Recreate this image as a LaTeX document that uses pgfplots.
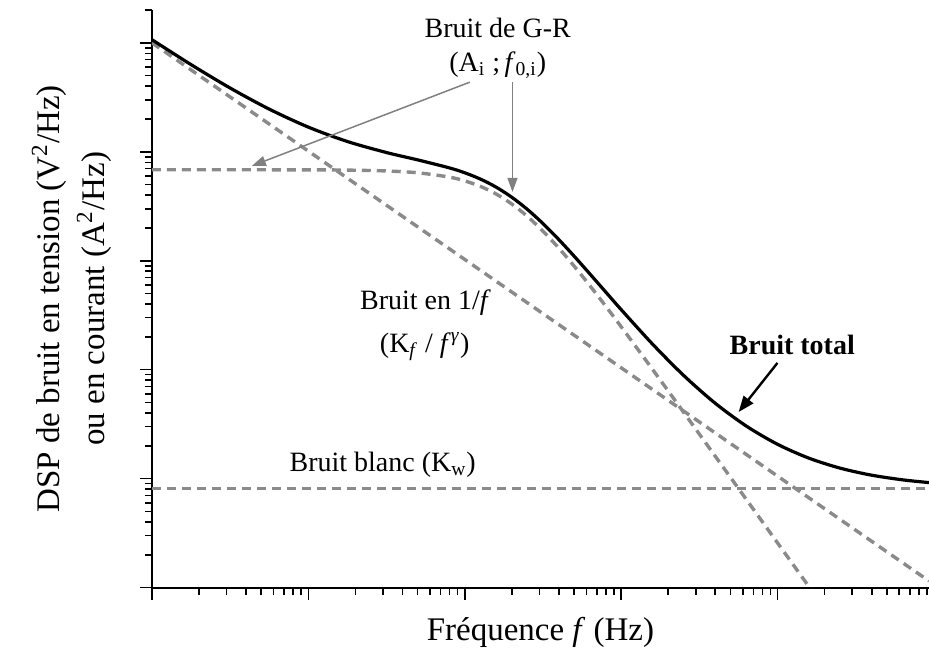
\documentclass[border=0pt]{standalone}
\usepackage{fontspec}
\setmainfont{Liberation Serif}
\usepackage{pgfplots}
\pgfplotsset{compat=1.18}
\usetikzlibrary{arrows.meta}
\definecolor{dgray}{RGB}{138,138,138}
\definecolor{agray}{RGB}{128,128,128}
\newcommand{\annot}{\fontsize{14}{17}\selectfont}
\newcommand{\labfont}{\fontsize{16.5}{22.5}\selectfont}
\begin{document}
\begin{tikzpicture}
\useasboundingbox (-76pt,-31.5pt) rectangle (388.8pt,294pt);
\begin{loglogaxis}[
  at={(0,0)}, anchor=south west,
  scale only axis, width=388.8pt, height=289pt,
  xmin=1, xmax=9.3e4, ymin=1, ymax=2e5,
  axis lines=left, axis line style={-, line width=1pt},
  xtick={1,10,100,1000,10000},
  ytick={1,10,100,1000,10000,100000},
  minor xtick={2,3,4,5,6,7,8,9,20,30,40,50,60,70,80,90,200,300,400,500,600,700,800,900,2000,3000,4000,5000,6000,7000,8000,9000,20000,30000,40000,50000,60000,70000,80000,90000},
  minor ytick={2,3,4,5,6,7,8,9,20,30,40,50,60,70,80,90,200,300,400,500,600,700,800,900,2000,3000,4000,5000,6000,7000,8000,9000,20000,30000,40000,50000,60000,70000,80000,90000,200000},
  xticklabels={}, yticklabels={},
  tick align=outside,
  major tick length=6pt, minor tick length=3.5pt,
  every tick/.style={black, line width=0.8pt},
  xlabel={Fréquence \textit{f} (Hz)},
  ylabel={DSP de bruit en tension (V\textsuperscript{2}/Hz)\\ou en courant (A\textsuperscript{2}/Hz)},
  xlabel style={at={(axis description cs:0.5,-0.078)}, anchor=center, font=\labfont},
  ylabel style={at={(axis description cs:-0.103,0.5)}, anchor=center, align=center, font=\labfont},
]
% G-R noise (Lorentzian)
\addplot[dgray, line width=1.7pt, dash pattern=on 4.5pt off 3pt, smooth] coordinates {
(1,6840) (10,6822) (17.783,6783) (31.623,6663) (50.119,6412) (79.433,5858) (100,5404)
(125.89,4813.5) (158.49,4102) (199.53,3324) (251.19,2556) (316.23,1870) (398.11,1312.6)
(501.19,891.3) (630.96,590.8) (794.33,385.1) (1000,248.1) (1584.9,101.0) (2511.9,40.56)
(3981.1,16.20) (6309.6,6.46) (10000,2.573) (15849,1.0248) (19953,0.646)};
% 1/f noise
\addplot[dgray, line width=1.7pt, dash pattern=on 4.5pt off 3pt] coordinates {(1,100000) (93000,1.15)};
% white noise
\addplot[dgray, line width=1.5pt, dash pattern=on 4.5pt off 3pt] coordinates {(1,8.05) (93000,8.05)};
% total noise
\addplot[black, line width=1.6pt, smooth] coordinates {
(1,106848) (1.7783,63081) (3.1623,38469) (5.6234,24625) (10,16830) (17.783,12414.5)
(31.623,9833.4) (50.119,8415.4) (79.433,7124.8) (100,6412.3) (125.89,5615.9) (158.49,4741.5)
(199.53,3833.2) (251.19,2961.8) (316.23,2194.7) (398.11,1571.9) (501.19,1098.9) (630.96,757.4)
(794.33,519.1) (1000,356.2) (1584.9,172.2) (2511.9,88.47) (3981.1,49.42) (6309.6,30.41)
(10000,20.67) (15849,15.43) (25119,12.49) (39811,10.77) (63096,9.75) (93000,9.2)};
% annotations
\node[font=\annot] at (rel axis cs:0.445,0.969) {Bruit de G-R};
\node[font=\annot] at (rel axis cs:0.445,0.905) {(A\textsubscript{i} ;\,\textit{f}\textsubscript{0,i})};
\draw[agray, line width=0.75pt, -{Triangle[length=7pt,width=5pt]}] (rel axis cs:0.409,0.875) -- (rel axis cs:0.1286,0.730);
\draw[agray, line width=0.75pt, -{Triangle[length=7pt,width=5pt]}] (rel axis cs:0.464,0.875) -- (rel axis cs:0.464,0.685);
\node[font=\annot] at (rel axis cs:0.352,0.493) {Bruit en 1/\textit{f}};
\node[font=\annot] at (rel axis cs:0.351,0.417) {(K\textsubscript{\textit{f}} / \textit{f}\textsuperscript{\textit{γ}})};
\node[font=\annot] at (rel axis cs:0.297,0.213) {Bruit blanc (K\textsubscript{w})};
\node[font=\annot\bfseries] at (rel axis cs:0.824,0.420) {Bruit total};
\draw[black, line width=1.2pt, -{Triangle[length=8pt,width=6pt]}] (rel axis cs:0.805,0.389) -- (rel axis cs:0.755,0.304);
\end{loglogaxis}
\end{tikzpicture}
\end{document}
